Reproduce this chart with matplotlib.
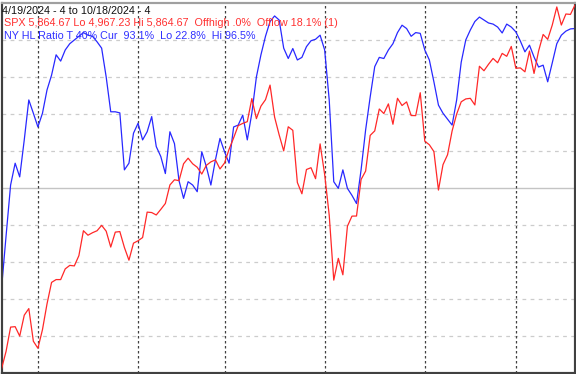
import matplotlib
matplotlib.use("Agg")
import matplotlib.pyplot as plt
import numpy as np

# SPX daily closes 4/19/2024 .. 10/18/2024
spx = [
    4967.23, 5010.60, 5070.55, 5071.63, 5048.42, 5099.96, 5116.17, 5035.69,
    5018.39, 5064.20, 5127.79, 5180.74, 5187.70, 5187.67, 5214.08, 5222.68, 5221.42, 5246.68,
    5308.15, 5297.10, 5303.27, 5308.13, 5321.41, 5307.01, 5267.84, 5304.72, 5306.04, 5266.95,
    5235.48, 5277.51,
    5283.40, 5291.34, 5354.03, 5352.96, 5346.99, 5360.79, 5375.32, 5421.03, 5433.74, 5431.60,
    5473.23, 5487.03, 5473.17, 5464.62, 5447.87, 5469.30, 5477.90, 5482.87, 5460.48,
    5475.09, 5509.01, 5537.02, 5567.19, 5572.85, 5576.98, 5633.91, 5584.54, 5615.35, 5631.22,
    5667.20, 5588.27, 5544.59, 5505.00, 5564.41, 5555.74, 5427.13, 5399.22, 5459.10, 5463.54,
    5436.44, 5522.30,
    5446.68, 5346.56, 5186.33, 5240.03, 5199.50, 5319.31, 5344.16, 5344.39, 5434.43, 5455.21,
    5543.22, 5554.25, 5608.25, 5597.12, 5620.85, 5570.64, 5634.61, 5616.84, 5625.80, 5592.18,
    5591.96, 5648.40,
    5528.93, 5520.07, 5503.41, 5408.42, 5471.05, 5495.52, 5554.13, 5595.76, 5626.02, 5633.09,
    5634.58, 5618.26, 5713.64, 5702.55, 5718.57, 5732.93, 5722.26, 5745.37, 5738.17, 5762.48,
    5708.75, 5709.54, 5699.94, 5751.07, 5695.94, 5751.13, 5792.04, 5780.05, 5815.03, 5859.85,
    5815.26, 5842.47, 5841.47, 5864.67,
]

# NY HL Ratio (%)
hl_ratio = [
    22.8, 37.0, 50.8, 56.7, 53.0, 63.0, 73.8, 70.2, 66.5, 70.2,
    76.5, 80.5, 86.0, 84.3, 87.3, 89.0, 90.0, 91.0, 92.0, 91.3,
    91.0, 89.5, 87.8, 80.0, 70.6, 70.6, 70.3, 54.9, 56.7, 64.8,
    67.5, 63.0, 65.2, 69.3, 61.2, 58.5, 53.9, 65.2, 62.0, 52.0,
    47.2, 51.7, 50.8, 49.0, 59.8, 55.8, 50.8, 57.6, 63.4, 59.8,
    56.7, 66.5, 67.0, 69.7, 63.0, 70.2, 80.0, 86.0, 91.0, 95.0,
    96.5, 95.4, 87.8, 85.0, 87.7, 84.6, 85.3, 88.2, 89.8, 90.2,
    91.3, 87.3, 73.8, 51.7, 49.9, 54.9, 49.9, 48.0, 45.8, 54.9,
    65.7, 74.6, 82.8, 85.3, 85.0, 87.3, 89.0, 92.0, 94.0, 93.1,
    91.0, 92.0, 91.8, 87.3, 84.6, 78.7, 72.4, 70.2, 68.6, 67.0,
    73.8, 84.0, 90.0, 92.7, 95.0, 96.2, 95.4, 94.6, 94.3, 93.5,
    91.9, 94.3, 93.5, 92.2, 89.7, 86.8, 88.6, 85.4, 82.7, 83.2,
    78.7, 83.8, 89.0, 91.3, 92.4, 93.0, 93.1,
]

month_start_idx = [8, 30, 49, 71, 93, 113]
hl_gridlines = [10, 20, 30, 40, 60, 70, 80, 90]
hl_midline = 50

title_line = "4/19/2024 - 4 to 10/18/2024 - 4"
spx_line = "SPX 5,864.67 Lo 4,967.23 Hi 5,864.67  Offhigh .0%  Offlow 18.1% (1)"
hl_line = "NY HL Ratio T 40% Cur  93.1%  Lo 22.8%  Hi 96.5%"

W, H = 576, 374
fig = plt.figure(figsize=(W / 100, H / 100), dpi=100)
fig.patch.set_facecolor("white")

left, right, top, bottom = 1.5, 575.0, 3.0, 373.0
ax = fig.add_axes([left / W, 1 - bottom / H, (right - left) / W, (bottom - top) / H])
ax.set_facecolor("white")
x = np.arange(len(spx))
ax.set_xlim(0, len(spx) - 1)
ax.set_ylim(0, 100)

for g in hl_gridlines:
    ax.axhline(g, color="#cccccc", lw=0.9, ls=(0, (3, 3.5)), zorder=1)
ax.axhline(hl_midline, color="#c4c4c4", lw=1.0, zorder=1)
for m in month_start_idx:
    ax.axvline(m, color="#404040", lw=0.9, ls=(0, (2, 2)), zorder=2)

ax.plot(x, hl_ratio, color="#2828ff", lw=0.9, zorder=4)

ax2 = ax.twinx()
lo, hi = min(spx), max(spx)
span = (hi - lo) / (0.9946 - 0.0108)
ymin = lo - 0.0108 * span
ax2.set_ylim(ymin, ymin + span)
ax2.plot(x, spx, color="#ff2828", lw=0.9, zorder=3)

for a in (ax, ax2):
    a.set_xticks([])
    a.set_yticks([])
    a.tick_params(left=False, right=False, bottom=False, top=False)
for a in (ax, ax2):
    a.spines["top"].set_color("#a0a0a0")
    a.spines["left"].set_color("#404040")
    a.spines["right"].set_color("#404040")
    a.spines["bottom"].set_color("#404040")
    for s in a.spines.values():
        s.set_linewidth(1.5)

fam = ["Liberation Sans", "DejaVu Sans"]
fs = 7.75
fig.text(2 / W, 1 - 10.5 / H, title_line, color="#101010", fontsize=fs, family=fam, va="center", ha="left")
fig.text(4 / W, 1 - 23 / H, spx_line, color="#ff3030", fontsize=fs, family=fam, va="center", ha="left")
fig.text(4 / W, 1 - 36 / H, hl_line, color="#3030ff", fontsize=fs, family=fam, va="center", ha="left")

fig.savefig("out.png", dpi=100, facecolor="white")
